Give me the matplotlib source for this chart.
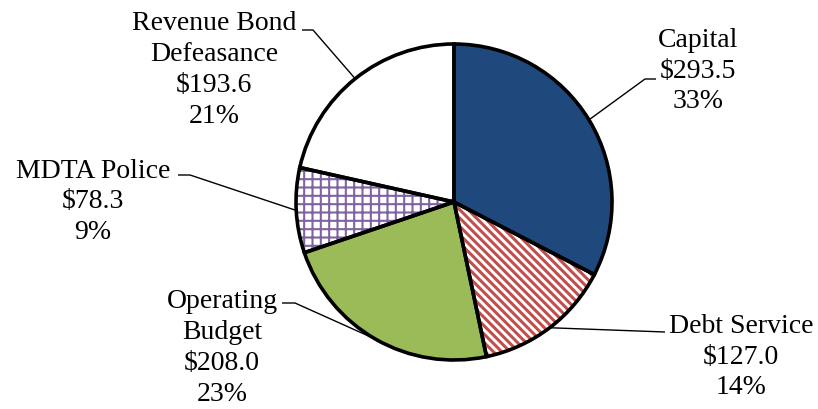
import numpy as np
import matplotlib
matplotlib.use("Agg")
import matplotlib.pyplot as plt

# DATA ($ millions)
categories = ["Capital", "Debt Service", "Operating\nBudget", "MDTA Police", "Revenue Bond\nDefeasance"]
amounts = [293.5, 127.0, 208.0, 78.3, 193.6]
percents = [33, 14, 23, 9, 21]

# STYLE
face_colors = ["#1F497D", "white", "#9BBB59", "white", "white"]
hatches = [None, "\\\\\\\\", None, "++", None]
hatch_colors = [None, "#C0504D", None, "#8064A2", None]
hatch_widths = [None, 2.2, None, 1.5, None]

# LAYOUT (pixel coords, y measured from top of image)
W, H = 818, 409
cx, cy, r = 454, 202, 158
label_pos = [(698, 71), (741, 357), (222, 348), (93, 202), (214, 70)]
# leader line points from elbow to text end
leader_pts = [[(645, 79), (656, 79)],
              [(665, 332)],
              [(295, 303), (282, 303)],
              [(190, 175), (178, 175)],
              [(313, 30), (302, 30)]]

plt.rcParams['font.family'] = ['Liberation Serif', 'DejaVu Serif']

fig = plt.figure(figsize=(W / 100, H / 100), dpi=100)
ax = fig.add_axes([0, 0, 1, 1])

def fy(y):
    return H - y

# filled/hatched wedges
wedges, _ = ax.pie(amounts, colors=face_colors, startangle=90, counterclock=False,
                   radius=r, center=(cx, fy(cy)), frame=True)
for w, h, hc, hw in zip(wedges, hatches, hatch_colors, hatch_widths):
    w.set_linewidth(0)
    if h:
        w.set_hatch(h)
        w.set_edgecolor(hc)
        if hasattr(w, "set_hatch_linewidth"):
            w.set_hatch_linewidth(hw)
        else:
            w._hatch_linewidth = hw

# outlines on top
outlines, _ = ax.pie(amounts, startangle=90, counterclock=False, radius=r,
                     center=(cx, fy(cy)), frame=True,
                     wedgeprops=dict(facecolor="none", edgecolor="black", linewidth=2.6))

for w, cat, amt, pct, pos, pts in zip(outlines, categories, amounts, percents, label_pos, leader_pts):
    mid = np.deg2rad((w.theta1 + w.theta2) / 2)
    ex = cx + r * np.cos(mid)
    ey = fy(cy) + r * np.sin(mid)
    xs = [ex] + [p[0] for p in pts]
    ys = [ey] + [fy(p[1]) for p in pts]
    ax.plot(xs, ys, color="black", lw=1.0, solid_capstyle="butt", zorder=1)
    ax.text(pos[0], fy(pos[1]), f"{cat}\n${amt:.1f}\n{pct}%", ha="center", va="center",
            fontsize=20, linespacing=1.3, color="black")

ax.set_xlim(0, W)
ax.set_ylim(0, H)
ax.set_aspect("equal")
ax.axis("off")

fig.savefig("out.png", dpi=100)
